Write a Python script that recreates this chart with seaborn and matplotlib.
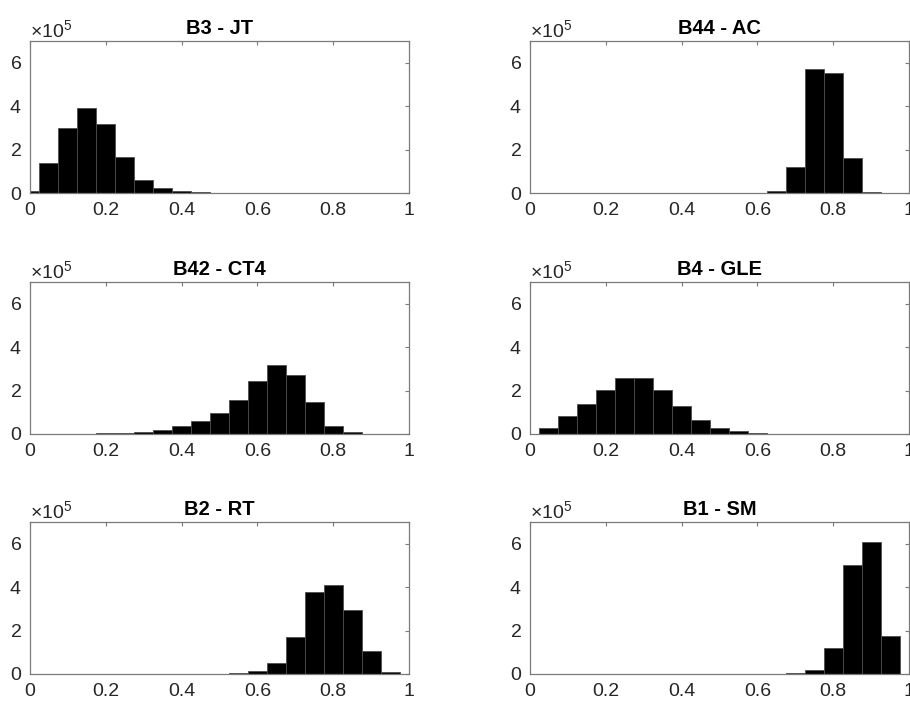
import numpy as np
import pandas as pd
import matplotlib
matplotlib.use("Agg")
import matplotlib.pyplot as plt
import seaborn as sns

# ---- data (bin counts, in units of 1e5) ----
bin_centers = [0.00, 0.05, 0.10, 0.15, 0.20, 0.25, 0.30, 0.35, 0.40, 0.45, 0.50,
               0.55, 0.60, 0.65, 0.70, 0.75, 0.80, 0.85, 0.90, 0.95, 1.00]

titles = ["B3 - JT", "B44 - AC", "B42 - CT4", "B4 - GLE", "B2 - RT", "B1 - SM"]

b3_jt = [0.10, 1.39, 3.00, 3.90, 3.16, 1.67, 0.62, 0.22, 0.09, 0.04, 0.02,
         0.01, 0.005, 0.0, 0.0, 0.0, 0.0, 0.0, 0.0, 0.0, 0.0]
b44_ac = [0.0, 0.0, 0.0, 0.0, 0.0, 0.0, 0.0, 0.0, 0.0, 0.0, 0.005,
          0.01, 0.02, 0.07, 1.22, 5.72, 5.51, 1.60, 0.05, 0.0, 0.0]
b42_ct4 = [0.01, 0.005, 0.01, 0.01, 0.03, 0.06, 0.09, 0.17, 0.35, 0.60, 0.97,
           1.55, 2.43, 3.18, 2.72, 1.48, 0.38, 0.08, 0.02, 0.005, 0.0]
b4_gle = [0.005, 0.28, 0.83, 1.39, 2.02, 2.58, 2.58, 2.04, 1.27, 0.63, 0.26,
          0.12, 0.05, 0.02, 0.01, 0.0, 0.0, 0.0, 0.0, 0.0, 0.0]
b2_rt = [0.0, 0.0, 0.0, 0.0, 0.0, 0.0, 0.0, 0.0, 0.0, 0.005, 0.01,
         0.03, 0.15, 0.52, 1.71, 3.78, 4.09, 2.95, 1.06, 0.08, 0.0]
b1_sm = [0.0, 0.0, 0.0, 0.0, 0.0, 0.0, 0.0, 0.0, 0.0, 0.0, 0.0,
         0.005, 0.01, 0.02, 0.03, 0.18, 1.18, 5.04, 6.08, 1.76, 0.0]

series = [b3_jt, b44_ac, b42_ct4, b4_gle, b2_rt, b1_sm]
SCALE = 1e5
BIN_WIDTH = 0.05

x_ticks = [0, 0.2, 0.4, 0.6, 0.8, 1]
x_ticklabels = ["0", "0.2", "0.4", "0.6", "0.8", "1"]
y_ticks = [0, 2e5, 4e5, 6e5]

# ---- style ----
sns.set_style("white")
plt.rcParams['font.family'] = ['Liberation Sans', 'DejaVu Sans']
plt.rcParams['mathtext.fontset'] = 'custom'
plt.rcParams['mathtext.rm'] = 'Liberation Sans'
plt.rcParams['mathtext.it'] = 'Liberation Sans'

W, H = 910, 704
fig = plt.figure(figsize=(W / 100, H / 100), dpi=100)
fig.patch.set_facecolor("white")

# axes rectangles in pixels: (left, top, right, bottom)
col_x = [(30, 409), (530, 909)]
row_y = [(41, 193), (282, 434), (522, 674)]

text_col = "#262626"
spine_col = "#7a7a7a"

for i, (title, vals) in enumerate(zip(titles, series)):
    r, c = divmod(i, 2)
    x0, x1 = col_x[c]
    y0, y1 = row_y[r]
    ax = fig.add_axes([x0 / W, 1 - y1 / H, (x1 - x0) / W, (y1 - y0) / H])
    df = pd.DataFrame({"x": bin_centers, "w": np.array(vals) * SCALE})
    sns.histplot(data=df, x="x", weights="w", binwidth=BIN_WIDTH,
                 binrange=(bin_centers[0] - BIN_WIDTH / 2, bin_centers[-1] + BIN_WIDTH / 2),
                 color="black", edgecolor="#4d4d4d", linewidth=0.6, alpha=1.0,
                 ax=ax)
    ax.set_xlim(0, 1)
    ax.set_ylim(0, 7e5)
    ax.set_xticks(x_ticks)
    ax.set_xticklabels(x_ticklabels)
    ax.set_yticks(y_ticks)
    ax.ticklabel_format(axis='y', style='sci', scilimits=(0, 0), useMathText=True)
    ax.yaxis.get_offset_text().set_fontsize(14)
    ax.yaxis.get_offset_text().set_color(text_col)
    ax.set_xlabel("")
    ax.set_ylabel("")
    ax.set_title(title, fontsize=14.5, fontweight="bold", color="black", pad=5)
    ax.tick_params(axis="both", which="both", direction="in", length=3,
                   width=0.8, colors=spine_col, labelcolor=text_col,
                   labelsize=14, top=True, right=True)
    ax.tick_params(axis="x", pad=6.5)
    ax.tick_params(axis="y", pad=6)
    for s in ax.spines.values():
        s.set_visible(True)
        s.set_color(spine_col)
        s.set_linewidth(0.9)

fig.savefig("out.png", dpi=100, facecolor="white")
